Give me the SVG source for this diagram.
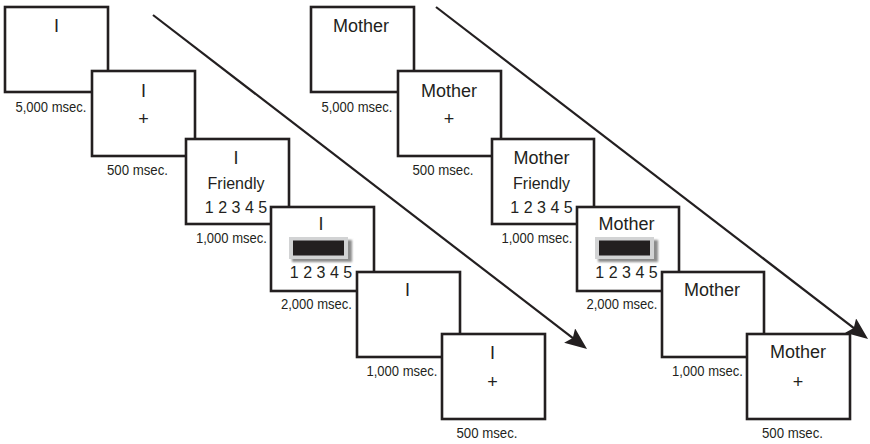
<svg xmlns="http://www.w3.org/2000/svg" width="870" height="444" viewBox="0 0 870 444">
<defs>
<style>
.bx{fill:#fff;stroke:#231f20;stroke-width:2.6}
.w{font-family:"Liberation Sans",Arial,sans-serif;font-size:18px;fill:#231f20;text-anchor:middle}
.s{font-family:"Liberation Sans",Arial,sans-serif;font-size:16px;fill:#231f20;text-anchor:middle}
.p{font-family:"Liberation Sans",Arial,sans-serif;font-size:18px;fill:#231f20;text-anchor:middle}
.lb{font-family:"Liberation Sans",Arial,sans-serif;font-size:15px;fill:#231f20;text-anchor:middle}
.ln{stroke:#231f20;stroke-width:2.2;fill:none}
.face{fill:#d2d3d4}
.shd{fill:#8c8c8c;filter:url(#blur)}
.blk{fill:#231f20}
</style>
<filter id="blur" x="-20%" y="-30%" width="140%" height="160%"><feGaussianBlur stdDeviation="1.2"/></filter>
<marker id="ah" viewBox="0 0 22 18" refX="14" refY="9" markerWidth="22" markerHeight="18" markerUnits="userSpaceOnUse" orient="auto">
<path d="M0,0 L22,9 L0,18 L4,9 z" fill="#231f20"/>
</marker>
</defs>
<g id="connectors">
<line class="ln" x1="153" y1="15" x2="580.7" y2="344.1" marker-end="url(#ah)"/>
<line class="ln" x1="436" y1="7" x2="861.7" y2="334.1" marker-end="url(#ah)"/>
</g>
<g id="L1">
<rect class="bx" x="5" y="7" width="103" height="85"/>
<text class="w" x="56.5" y="32">I</text>
<text class="lb" x="51" y="111.5" textLength="71" lengthAdjust="spacingAndGlyphs">5,000 msec.</text>
</g>
<g id="L2">
<rect class="bx" x="92" y="71" width="103" height="85"/>
<text class="w" x="143.5" y="96.5">I</text>
<text class="p" x="143.5" y="124.5">+</text>
<text class="lb" x="137.5" y="175" textLength="61" lengthAdjust="spacingAndGlyphs">500 msec.</text>
</g>
<g id="L3">
<rect class="bx" x="186" y="139" width="103" height="85"/>
<text class="w" x="236" y="163.5">I</text>
<text class="s" x="236" y="188.5">Friendly</text>
<text class="s" x="236" y="212.5">1 2 3 4 5</text>
<text class="lb" x="231.5" y="242.5" textLength="71" lengthAdjust="spacingAndGlyphs">1,000 msec.</text>
</g>
<g id="L4">
<rect class="bx" x="271" y="207" width="103" height="84"/>
<text class="w" x="321" y="229.5">I</text>
<rect class="shd" x="292" y="240" width="60" height="22"/>
<rect class="face" x="289" y="237" width="59" height="22"/>
<rect class="blk" x="293" y="240.5" width="51" height="15"/>
<text class="s" x="321" y="278">1 2 3 4 5</text>
<text class="lb" x="316.5" y="309" textLength="71" lengthAdjust="spacingAndGlyphs">2,000 msec.</text>
</g>
<g id="L5">
<rect class="bx" x="357" y="272" width="103" height="85"/>
<text class="w" x="407.5" y="296">I</text>
<text class="lb" x="402" y="375.5" textLength="71" lengthAdjust="spacingAndGlyphs">1,000 msec.</text>
</g>
<g id="L6">
<rect class="bx" x="442" y="334" width="103" height="85"/>
<text class="w" x="492.5" y="358.5">I</text>
<text class="p" x="492.5" y="387.5">+</text>
<text class="lb" x="487" y="437.5" textLength="61" lengthAdjust="spacingAndGlyphs">500 msec.</text>
</g>
<g id="R1">
<rect class="bx" x="311" y="7" width="103" height="85"/>
<text class="w" x="361" y="32">Mother</text>
<text class="lb" x="357" y="111.5" textLength="71" lengthAdjust="spacingAndGlyphs">5,000 msec.</text>
</g>
<g id="R2">
<rect class="bx" x="398" y="71" width="103" height="85"/>
<text class="w" x="449" y="96.5">Mother</text>
<text class="p" x="449" y="124.5">+</text>
<text class="lb" x="443" y="175" textLength="61" lengthAdjust="spacingAndGlyphs">500 msec.</text>
</g>
<g id="R3">
<rect class="bx" x="492" y="139" width="102" height="85"/>
<text class="w" x="541.5" y="163.5">Mother</text>
<text class="s" x="541.5" y="188.5">Friendly</text>
<text class="s" x="541.5" y="212.5">1 2 3 4 5</text>
<text class="lb" x="537" y="242.5" textLength="71" lengthAdjust="spacingAndGlyphs">1,000 msec.</text>
</g>
<g id="R4">
<rect class="bx" x="577" y="207" width="102" height="84"/>
<text class="w" x="626.5" y="230">Mother</text>
<rect class="shd" x="598" y="240" width="60" height="22"/>
<rect class="face" x="595" y="237" width="59" height="22"/>
<rect class="blk" x="599" y="240.5" width="51" height="15"/>
<text class="s" x="626.5" y="278">1 2 3 4 5</text>
<text class="lb" x="622" y="309" textLength="71" lengthAdjust="spacingAndGlyphs">2,000 msec.</text>
</g>
<g id="R5">
<rect class="bx" x="662" y="272" width="102" height="85"/>
<text class="w" x="712" y="296">Mother</text>
<text class="lb" x="707.5" y="375.5" textLength="71" lengthAdjust="spacingAndGlyphs">1,000 msec.</text>
</g>
<g id="R6">
<rect class="bx" x="747" y="334" width="103" height="85"/>
<text class="w" x="798" y="358">Mother</text>
<text class="p" x="798" y="387.5">+</text>
<text class="lb" x="792.5" y="437.5" textLength="61" lengthAdjust="spacingAndGlyphs">500 msec.</text>
</g>
</svg>
